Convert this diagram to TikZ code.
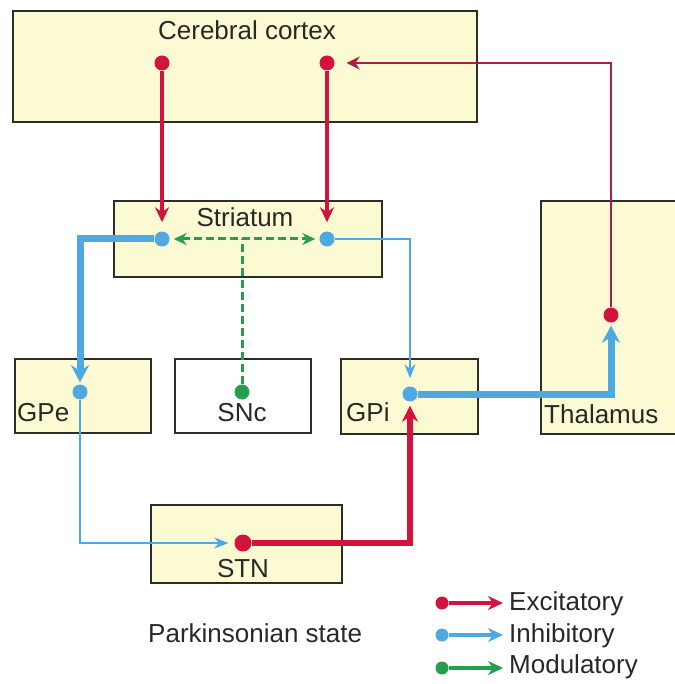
\documentclass[tikz,border=0pt]{standalone}
\usepackage{fontspec}
\setmainfont{Liberation Sans}
\usetikzlibrary{arrows.meta}
\usetikzlibrary{positioning}

\definecolor{boxfill}{RGB}{252,250,210}
\definecolor{excred}{RGB}{212,18,62}
\definecolor{thalred}{RGB}{170,30,72}
\definecolor{inhblue}{RGB}{78,168,226}
\definecolor{modgreen}{RGB}{38,158,78}
\definecolor{edgegray}{RGB}{45,45,40}
\definecolor{inkgray}{RGB}{40,40,40}

\begin{document}
\begin{tikzpicture}[x=1pt,y=-1pt]
        \tikzset{
          region/.style={
            draw=edgegray,
            line width=2pt,
            fill=boxfill,
            anchor=north west,
            inner sep=0pt,
          },
          txt/.style={font=\fontsize{26}{31}\selectfont, text=inkgray, inner sep=0pt},
          dot/.style={circle, fill=#1, inner sep=0pt, minimum size=15pt},
          exc/.style={excred, line width=3.5pt, -{Stealth[length=15pt,width=14pt]}},
          excthick/.style={excred, line width=6pt, -{Stealth[length=16pt,width=16pt]}},
          thal/.style={thalred, line width=2.5pt, -{Stealth[length=13pt,width=13pt]}},
          inh/.style={inhblue, line width=2pt, -{Stealth[length=14pt,width=11pt]}},
          inhthick/.style={inhblue, line width=7pt, -{Stealth[length=17pt,width=18pt]}},
          modul/.style={modgreen, line width=3pt, dash pattern=on 8pt off 4pt},
          legline/.style={#1, line width=4.5pt, -{Stealth[length=15pt,width=14pt]}},
        }
        \useasboundingbox (0,0) rectangle (674,684);

        % boxes
        \node[region, minimum width=464pt, minimum height=111pt] (cortex) at (12,10) {};
        \node[region, minimum width=268pt, minimum height=76pt] (striatum) at (113,200) {};
        \node[region, minimum width=150pt, minimum height=233pt] (thalamus) at (540,200) {};
        \node[region, minimum width=136pt, minimum height=74pt] (gpe) at (14,358) {};
        \node[region, fill=white, minimum width=136pt, minimum height=74pt] (snc) at (174,358) {};
        \node[region, minimum width=137pt, minimum height=75pt] (gpi) at (340,358) {};
        \node[region, minimum width=191pt, minimum height=78pt] (stn) at (150,504) {};

        % labels
        \node[txt, anchor=base] (cortexTxt) at (247,40) {Cerebral cortex};
        \node[txt, anchor=base] (striatumTxt) at (245,227) {Striatum};
        \node[txt, anchor=base west] (gpeTxt) at (17,421) {GPe};
        \node[txt, anchor=base] (sncTxt) at (242,421) {SNc};
        \node[txt, anchor=base west] (gpiTxt) at (346,421) {GPi};
        \node[txt, anchor=base west] (thalTxt) at (544,423) {Thalamus};
        \node[txt, anchor=base] (stnTxt) at (243,577) {STN};
        \node[txt, anchor=base west] (stateTxt) at (148,642) {Parkinsonian state};

        % synapse dots
        \node[dot=excred] (ctxL) at (162,63) {};
        \node[dot=excred] (ctxR) at (327,63) {};
        \node[dot=inhblue] (strL) at (162,239) {};
        \node[dot=inhblue] (strR) at (327,239) {};
        \node[dot=excred] (thalDot) at (611,315) {};
        \node[dot=inhblue] (gpeDot) at (80,392) {};
        \node[dot=modgreen] (sncDot) at (242,392) {};
        \node[dot=inhblue] (gpiDot) at (410,394) {};
        \node[dot=excred, minimum size=17pt] (stnDot) at (243,543) {};

        % pathways
        \draw[modul] (sncDot) -- (sncDot |- strL);
        \draw[modul, {Stealth[length=13pt,width=12pt]}-{Stealth[length=13pt,width=12pt]},
          shorten <=4pt, shorten >=4pt] (strL) -- (strR);
        \draw[exc, shorten >=9pt] (ctxL) -- (strL);
        \draw[exc, shorten >=9pt] (ctxR) -- (strR);
        \draw[thal, shorten >=12pt] (thalDot) |- (ctxR);
        \draw[inhthick, shorten >=2pt] (strL) -| (gpeDot);
        \draw[inh, shorten >=8pt] (strR) -| (gpiDot);
        \draw[inhthick, shorten >=3pt] (gpiDot) -| (thalDot);
        \draw[inh, shorten >=6pt] (gpeDot) |- (stnDot);
        \draw[excthick, shorten >=4pt] (stnDot) -| (gpiDot);

        % legend
        \node[dot=excred, minimum size=13pt] (legExc) at (442,603) {};
        \node[dot=inhblue, minimum size=13pt] (legInh) at (442,635) {};
        \node[dot=modgreen, minimum size=13pt] (legMod) at (442,668) {};
        \node[txt, anchor=base west] (excTxt) at (509,610) {Excitatory};
        \node[txt, anchor=base west] (inhTxt) at (509,642) {Inhibitory};
        \node[txt, anchor=base west] (modTxt) at (509,673) {Modulatory};
        \draw[legline=excred, shorten >=6pt] (legExc) -- (legExc -| excTxt.west);
        \draw[legline=inhblue, shorten >=6pt] (legInh) -- (legInh -| inhTxt.west);
        \draw[legline=modgreen, shorten >=6pt] (legMod) -- (legMod -| modTxt.west);
\end{tikzpicture}
\end{document}
